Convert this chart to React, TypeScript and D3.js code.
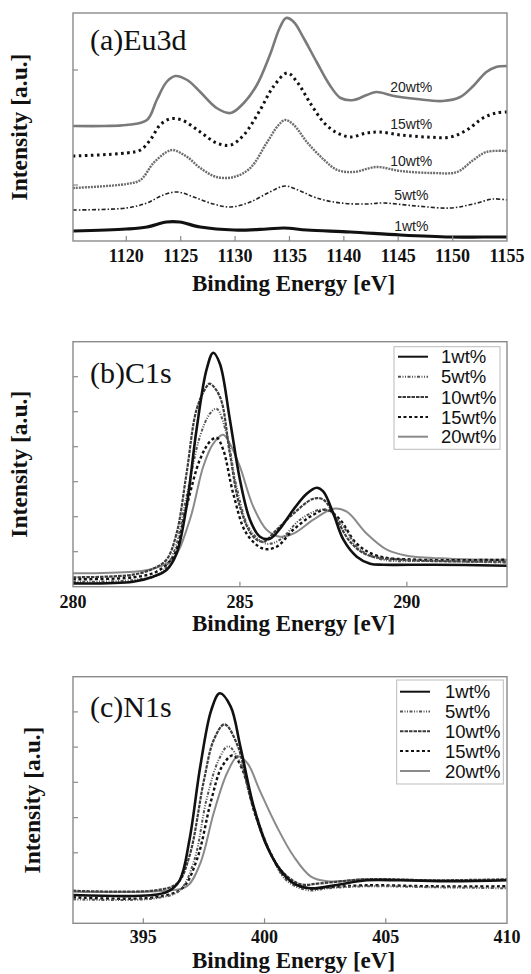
import React from "react";
import * as d3 from "d3";

type Pt = [number, number];

// ---------- (a) Eu3d ----------
const euTicks = [1120, 1125, 1130, 1135, 1140, 1145, 1150, 1155];
const euYTicks = [56, 171];
const eu20: Pt[] = [[1115.1,115],[1118,115],[1120,116],[1121.9,121],[1122.8,141],[1123.7,159],[1124.5,165],[1125.6,161],[1126.8,149],[1128.3,133],[1129.6,128],[1130.8,138],[1132.0,156],[1133.2,186],[1134.1,213],[1134.7,223],[1135.4,219],[1136.3,203],[1137.5,179],[1138.7,156],[1139.7,143],[1140.9,141],[1142.1,146],[1143.0,149],[1144.6,145],[1146.7,142],[1149.1,140],[1150.7,144],[1151.9,155],[1153.1,169],[1154.0,174],[1155,175]];
const eu15: Pt[] = [[1115.1,85],[1120,88],[1121.3,91],[1122.2,101],[1123.1,116],[1124.0,122],[1125.1,121],[1126.8,109],[1128.3,98],[1129.6,96],[1130.8,106],[1132.3,131],[1133.5,154],[1134.8,168],[1135.7,159],[1136.9,138],[1138.2,118],[1139.4,108],[1140.6,104],[1142.1,108],[1143.3,109],[1145.2,106],[1147.6,104],[1149.8,104],[1151.3,111],[1152.8,123],[1154.0,128],[1155,129]];
const eu10: Pt[] = [[1115.1,53],[1120,57],[1121.3,61],[1122.5,78],[1123.7,89],[1124.3,91],[1125.6,84],[1126.8,73],[1128.3,64],[1129.9,64],[1131.4,73],[1132.9,98],[1134.0,116],[1134.6,121],[1135.4,116],[1136.6,99],[1138.2,81],[1139.4,71],[1140.9,69],[1143.0,74],[1145.2,70],[1148.2,68],[1150.4,69],[1151.9,81],[1153.1,89],[1155,90]];
const eu5: Pt[] = [[1115.1,31],[1120,33],[1121.9,38],[1123.4,46],[1124.7,49],[1126.2,44],[1128.0,37],[1129.6,34],[1131.4,39],[1133.2,49],[1134.6,55],[1136.0,50],[1137.5,43],[1139.7,38],[1142.1,37],[1143.6,38],[1146.7,35],[1149.8,33],[1151.9,37],[1153.7,42],[1155,41]];
const eu1: Pt[] = [[1115.1,10],[1120,12],[1121.9,14],[1123.7,19],[1124.9,19],[1126.8,14],[1129.9,11],[1132.9,12],[1134.5,13],[1136.6,11],[1140.6,9],[1145.2,6],[1149.8,4],[1152.8,4],[1155,4]];
const euLabels = ["20wt%", "15wt%", "10wt%", "5wt%", "1wt%"];
const euLabelY = [154, 117, 80, 46, 15];
const euLabelX = 1146.2;

// ---------- (b) C1s ----------
const cTicks = [280, 285, 290];
const cYTicks = [35, 70, 105, 140, 175, 210];
const c1: Pt[] = [[280,3.3],[281.8,5],[282.4,10],[282.8,16.7],[283.1,33],[283.4,80],[283.7,157],[284.0,217],[284.2,234],[284.4,223],[284.7,167],[285.0,107],[285.3,67],[285.6,50],[285.9,48],[286.2,58],[286.6,77],[287.0,93],[287.3,99],[287.5,95],[287.8,73],[288.1,47],[288.5,30],[288.9,23],[289.3,22],[290.8,22],[293,21]];
const c5: Pt[] = [[280,5],[281.8,6.7],[282.6,13],[283.0,33],[283.4,90],[283.8,150],[284.1,173],[284.3,178],[284.6,153],[284.9,100],[285.3,57],[285.8,43],[286.2,47],[286.8,67],[287.4,77],[287.7,75],[288.1,60],[288.6,37],[289.3,27],[290.8,26],[293,24]];
const c10: Pt[] = [[280,9.4],[281.8,12],[282.4,18],[282.8,27],[283.1,53],[283.4,113],[283.7,177],[284.0,200],[284.1,203],[284.4,190],[284.7,133],[285.0,80],[285.4,50],[285.7,45],[286.1,57],[286.6,73],[287.2,88],[287.5,87],[287.9,67],[288.3,45],[288.8,32],[289.8,27],[293,25]];
const c15: Pt[] = [[280,7.4],[281.8,9.4],[282.5,15],[283.0,30],[283.4,80],[283.8,127],[284.1,145],[284.3,149],[284.5,137],[284.8,93],[285.2,53],[285.7,38],[286.1,40],[286.6,57],[287.2,72],[287.6,77],[288.0,67],[288.5,43],[289.1,31],[290.3,27],[293,27]];
const c20: Pt[] = [[280,13.4],[281.8,15],[282.4,18],[283.0,28],[283.5,67],[283.9,120],[284.2,143],[284.5,152],[284.7,143],[285.0,120],[285.4,80],[285.8,57],[286.2,50],[286.6,53],[287.2,67],[287.8,78],[288.2,75],[288.8,53],[289.4,37],[290.0,31],[291.3,28],[293,27]];

// ---------- (c) N1s ----------
const nTicks = [395, 400, 405, 410];
const nYTicks = [70.5, 105.7, 141, 176.2, 211.4];
const n1: Pt[] = [[392.1,28.3],[395.3,28],[396.0,31.6],[396.5,43],[396.9,83],[397.35,157],[397.8,213],[398.15,230],[398.6,217],[399.0,177],[399.55,117],[400.1,77],[400.66,53],[401.2,40],[401.9,35],[402.9,38],[404.2,43],[405.6,43],[407.7,42],[410,43]];
const n5: Pt[] = [[392.1,24],[395.5,25],[396.5,33],[397.1,63],[397.6,123],[398.1,163],[398.5,177],[399.0,160],[399.55,117],[400.25,70],[400.9,43],[401.8,33],[402.6,35],[404.2,37],[407.0,36],[410,35]];
const n10: Pt[] = [[392.1,32.6],[395.5,33],[396.4,40],[396.9,67],[397.5,143],[397.9,183],[398.35,199],[398.9,177],[399.4,127],[400.1,77],[400.8,50],[401.5,39],[402.3,40],[404.2,44],[407.0,43],[410,44]];
const n15: Pt[] = [[392.1,26],[395.5,26],[396.6,35],[397.2,63],[397.8,123],[398.25,157],[398.7,168],[399.1,153],[399.6,110],[400.25,70],[400.9,45],[401.8,35],[402.6,36],[404.2,38],[407.0,37],[410,37]];
const n20: Pt[] = [[392.1,31.6],[395.9,32.6],[396.8,37],[397.35,60],[397.9,110],[398.45,150],[398.9,167],[399.3,160],[399.8,133],[400.5,97],[401.2,67],[401.9,47],[402.6,42],[404.2,44],[407.0,43],[410,43]];

const legendNames = ["1wt%", "5wt%", "10wt%", "15wt%", "20wt%"];

type Style = { stroke: string; width: number; dash?: string };

const stylesA: Style[] = [
  { stroke: "#7a7a7a", width: 2.6 },
  { stroke: "#111", width: 3, dash: "2.5 3.5" },
  { stroke: "#6e6e6e", width: 2.4, dash: "2 1" },
  { stroke: "#222", width: 1.6, dash: "4 2 1.5 2" },
  { stroke: "#111", width: 3.2 },
];
const stylesBC: Style[] = [
  { stroke: "#111", width: 2.6 },
  { stroke: "#555", width: 2, dash: "3 1.5 1 1.5 1 1.5" },
  { stroke: "#3c3c3c", width: 2.2, dash: "3.5 1" },
  { stroke: "#111", width: 2.4, dash: "3 2.5" },
  { stroke: "#8a8a8a", width: 2 },
];

const SERIF = "'Liberation Serif', 'Times New Roman', serif";
const SANS = "'Liberation Sans', Arial, sans-serif";

type Legend = { x0: number; y0: number; x1: number; y1: number; rows: number[]; lineX0: number; lineX1: number; textX: number };

type PanelProps = {
  top: number;
  bottom: number;
  xDomain: [number, number];
  yMax: number;
  xTicks: number[];
  yTicks: number[];
  series: Pt[][];
  styles: Style[];
  title: string;
  titleY: number;
  ylabelX: number;
  xlabelY: number;
  tickLabelY: number;
  legend?: Legend;
  children?: React.ReactNode;
};

const LEFT = 73;
const RIGHT = 507;

function Panel(p: PanelProps) {
  const x = d3.scaleLinear().domain(p.xDomain).range([LEFT, RIGHT]);
  const y = d3.scaleLinear().domain([0, p.yMax]).range([p.bottom, p.top]);
  const line = d3
    .line<Pt>()
    .x((d) => x(d[0]))
    .y((d) => y(d[1]))
    .curve(d3.curveCatmullRom.alpha(0.5));
  const cy = (p.top + p.bottom) / 2;
  const order = p.series.map((_, i) => i);
  const lg = p.legend;
  return (
    <g>
      <defs>
        <clipPath id={"clip" + Math.round(p.top)}>
          <rect x={LEFT} y={p.top} width={RIGHT - LEFT} height={p.bottom - p.top} />
        </clipPath>
      </defs>
      <g clipPath={`url(#clip${Math.round(p.top)})`}>
        {order
          .slice()
          .reverse()
          .map((i) => {
            const s = p.styles[i];
            return (
              <path
                key={i}
                d={line(p.series[i]) || ""}
                fill="none"
                stroke={s.stroke}
                strokeWidth={s.width}
                strokeDasharray={s.dash}
                strokeLinejoin="round"
              />
            );
          })}
      </g>
      <rect x={LEFT} y={p.top} width={RIGHT - LEFT} height={p.bottom - p.top} fill="none" stroke="#8a8a8a" strokeWidth={1.4} />
      {p.xTicks.map((t) => (
        <g key={"xt" + t}>
          {x(t) > LEFT + 1 && x(t) < RIGHT - 1 && (
            <line x1={x(t)} x2={x(t)} y1={p.bottom} y2={p.bottom - 5} stroke="#8a8a8a" strokeWidth={1.2} />
          )}
          <text x={x(t)} y={p.tickLabelY} textAnchor="middle" fontFamily={SERIF} fontWeight="bold" fontSize={18} fill="#111">
            {t}
          </text>
        </g>
      ))}
      {p.yTicks.map((t) => (
        <line key={"yt" + t} x1={LEFT} x2={LEFT + 5} y1={y(t)} y2={y(t)} stroke="#8a8a8a" strokeWidth={1.2} />
      ))}
      <text x={(LEFT + RIGHT) / 2 + 3.5} y={p.xlabelY} textAnchor="middle" fontFamily={SERIF} fontWeight="bold" fontSize={23} fill="#111">
        Binding Energy [eV]
      </text>
      <text
        transform={`translate(${p.ylabelX},${cy}) rotate(-90)`}
        textAnchor="middle"
        dominantBaseline="middle"
        fontFamily={SERIF}
        fontWeight="bold"
        fontSize={23.5}
        fill="#111"
      >
        Intensity [a.u.]
      </text>
      <text x={90} y={p.titleY} fontFamily={SERIF} fontSize={30} fill="#111">
        {p.title}
      </text>
      {lg && (
        <g>
          <rect x={lg.x0} y={lg.y0} width={lg.x1 - lg.x0} height={lg.y1 - lg.y0} fill="#fff" stroke="#bbb" strokeWidth={1} />
          {legendNames.map((n, i) => {
            const s = p.styles[i];
            const ry = lg.rows[i];
            return (
              <g key={n}>
                <line x1={lg.lineX0} x2={lg.lineX1} y1={ry} y2={ry} stroke={s.stroke} strokeWidth={Math.min(s.width, 2)} strokeDasharray={s.dash} />
                <text x={lg.textX} y={ry + 6.5} fontFamily={SANS} fontSize={18.5} fill="#111">
                  {n}
                </text>
              </g>
            );
          })}
        </g>
      )}
      {p.children}
    </g>
  );
}

export default function App() {
  const xA = d3.scaleLinear().domain([1115.1, 1155]).range([LEFT, RIGHT]);
  const yA = d3.scaleLinear().domain([0, 228]).range([241, 13]);
  return (
    <svg width={531} height={974} style={{ position: "absolute", left: 0, top: 0, background: "#fff" }}>
      <rect width={531} height={974} fill="#fff" />
      <Panel
        top={13}
        bottom={241}
        xDomain={[1115.1, 1155]}
        yMax={228}
        xTicks={euTicks}
        yTicks={euYTicks}
        series={[eu20, eu15, eu10, eu5, eu1]}
        styles={stylesA}
        title="(a)Eu3d"
        titleY={50}
        ylabelX={22}
        xlabelY={291}
        tickLabelY={262}
      >
        {euLabels.map((l, i) => (
          <text key={l} x={xA(euLabelX)} y={yA(euLabelY[i]) + 5} textAnchor="middle" fontFamily={SANS} fontSize={14} fill="#222">
            {l}
          </text>
        ))}
      </Panel>
      <Panel
        top={341.7}
        bottom={586.7}
        xDomain={[280, 293]}
        yMax={245}
        xTicks={cTicks}
        yTicks={cYTicks}
        series={[c1, c5, c10, c15, c20]}
        styles={stylesBC}
        title="(b)C1s"
        titleY={383}
        ylabelX={22}
        xlabelY={631}
        tickLabelY={607.5}
        legend={{ x0: 394, y0: 346.7, x1: 500, y1: 449.3, rows: [356.7, 376.7, 397, 417, 436.7], lineX0: 398, lineX1: 428, textX: 441 }}
      />
      <Panel
        top={676.7}
        bottom={923.3}
        xDomain={[392.1, 410]}
        yMax={246.6}
        xTicks={nTicks}
        yTicks={nYTicks}
        series={[n1, n5, n10, n15, n20]}
        styles={stylesBC}
        title="(c)N1s"
        titleY={717}
        ylabelX={35}
        xlabelY={968}
        tickLabelY={942.5}
        legend={{ x0: 396.7, y0: 680, x1: 503.3, y1: 784, rows: [691.7, 711.5, 731.3, 751, 771], lineX0: 400, lineX1: 430, textX: 445 }}
      />
    </svg>
  );
}
